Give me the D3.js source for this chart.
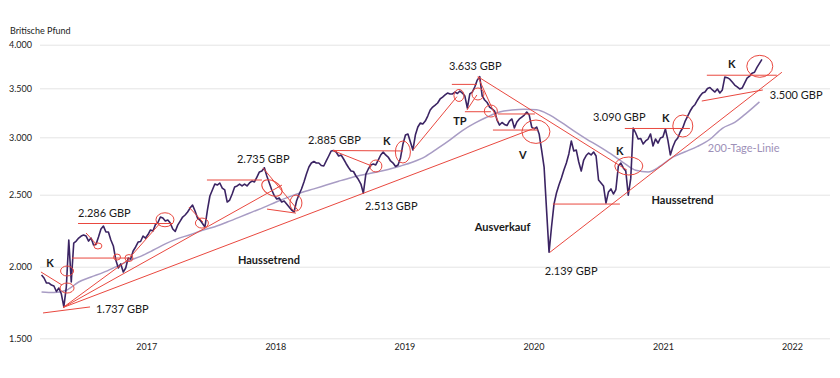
<!DOCTYPE html>
<html><head><meta charset="utf-8">
<script src="https://cdn.jsdelivr.net/npm/d3@7"></script>
<style>
body{margin:0;background:#fff}
svg{display:block}
text{font-family:Lato,"Open Sans",sans-serif}
</style>
</head><body>
<svg id="c" width="840" height="378"></svg>
<script>
// ---------- data ----------
const unitLabel = "Britische Pfund";
const startDate = "2016-03-11";            // first weekly close
const priceValues = [
1942,1921,1886,1886,1872,1865,1827,1851,1809,1720,
1858,2185,1893,2164,2178,2199,2213,2220,2213,2178,
2199,2151,2155,2206,2262,2282,2241,2241,2185,2144,
2046,1991,2019,1963,1991,2060,2053,2109,2137,2171,
2175,2213,2199,2223,2255,2248,2292,2307,2345,2338,
2317,2324,2303,2262,2245,2289,2317,2345,2359,2380,
2407,2428,2387,2338,2324,2300,2276,2393,2491,2541,
2593,2584,2602,2558,2541,2449,2463,2506,2567,2576,
2593,2576,2593,2576,2602,2619,2611,2654,2698,2706,
2735,2663,2602,2541,2494,2470,2477,2449,2456,2435,
2414,2393,2380,2456,2502,2550,2611,2680,2741,2776,
2789,2776,2776,2754,2750,2794,2837,2881,2885,2872,
2837,2846,2811,2772,2737,2706,2702,2663,2632,2593,
2513,2680,2724,2759,2767,2759,2802,2846,2872,2846,
2828,2794,2776,2746,2759,2820,2942,3023,3034,2959,
2889,3023,3105,3146,3136,3166,3217,3278,3309,3329,
3350,3391,3411,3432,3452,3442,3442,3462,3447,3472,
3452,3421,3299,3442,3462,3515,3594,3633,3421,3381,
3355,3309,3289,3268,3176,3125,3151,3131,3120,3166,
3187,3095,3156,3187,3207,3227,3258,3227,3105,3085,
3105,3034,2889,2741,2393,2100,2276,2435,2515,2584,
2645,2715,2776,2855,2968,2881,2889,2785,2706,2802,
2841,2863,2846,2872,2837,2628,2602,2576,2442,2524,
2550,2506,2545,2750,2776,2733,2706,2497,2640,3095,
3044,2985,2990,2942,2968,2985,3034,2924,2985,2950,
2994,3003,3085,2976,2846,2915,2968,2994,3054,3095,
3166,3217,3268,3309,3335,3381,3421,3452,3462,3498,
3509,3483,3462,3493,3452,3483,3628,3622,3605,3571,
3537,3515,3493,3503,3560,3616,3639,3673,3684,3740,
3786,3831
];
// 200-day line, sampled every 5 weeks from startDate
const ma200Values = [
1824,1820,1836,1893,1928,1960,1999,2039,2072,2114,
2159,2195,2222,2253,2278,2310,2344,2379,2414,2451,
2485,2519,2551,2584,2617,2648,2673,2695,2720,2750,
2785,2832,2903,2978,3069,3144,3207,3258,3278,3287,
3281,3231,3152,3066,2987,2923,2855,2780,2713,2698,
2750,2828,2874,2921,2983,3092,3152,3252,3362
];
const yTicks = [1500,2000,2500,3000,3500,4000];
const yearTicks = [2017,2018,2019,2020,2021,2022];

// annotations in data space: [decimal year, value, decimal year, value]
const trendLines = [
 [2016.187,1963, 2016.350,1872],
 [2016.203,1677, 2016.567,1719],
 [2016.427,2060, 2016.868,2060],
 [2016.536,2234, 2016.621,2151],
 [2016.474,2300, 2017.209,2300],
 [2016.876,2065, 2017.108,2301],
 [2016.358,1715, 2020.011,3095],
 [2016.358,1715, 2018.053,2584],
 [2016.358,1715, 2016.876,2058],
 [2017.472,2628, 2017.898,2628],
 [2017.333,2414, 2017.441,2310],
 [2017.906,2733, 2018.176,2393],
 [2017.937,2400, 2018.161,2372],
 [2018.447,2885, 2018.749,2750],
 [2018.447,2885, 2018.989,2881],
 [2019.368,3545, 2019.562,3545],
 [2019.067,2889, 2019.407,3414],
 [2019.485,3278, 2019.562,3432],
 [2019.469,3261, 2019.670,3261],
 [2019.570,3633, 2019.727,3159],
 [2019.570,3633, 2020.723,2715],
 [2019.724,3238, 2020.011,3238],
 [2019.686,3074, 2020.034,3074],
 [2020.150,2435, 2020.669,2435],
 [2020.127,2100, 2021.923,3684],
 [2020.707,3090, 2021.211,3090],
 [2021.342,3650, 2021.884,3650],
 [2021.303,3370, 2021.776,3483]
];
const ringCenters = [
 [2016.389,1970],[2016.389,1851],[2016.776,2067],[2016.868,2060],[2016.628,2144],[2017.147,2326],
 [2017.433,2303],[2017.975,2558],[2018.161,2442],[2018.780,2750],[2018.989,2872],
 [2019.423,3427],[2019.570,3442],[2019.670,3268],[2020.019,3057],
 [2020.738,2750],[2021.156,3115],[2021.752,3752]
];
const labelTexts = ["K","1.737 GBP","2.286 GBP","Haussetrend","2.735 GBP","2.885 GBP","K","2.513 GBP",
 "3.633 GBP","TP","V","Ausverkauf","2.139 GBP","K","3.090 GBP","K","Haussetrend","200-Tage-Linie","K","3.500 GBP"];
const labelAt = [
 [2016.257,2026],[2016.613,1705],[2016.474,2375],[2017.712,2053],[2017.704,2817],[2018.255,2980],
 [2018.865,2976],[2018.695,2428],[2019.345,3763],[2019.430,3176],[2019.918,2854],[2019.546,2282],
 [2020.088,1970],[2020.669,2881],[2020.460,3217],[2021.025,3207],[2020.914,2468],[2021.350,2907],
 [2021.536,3786],[2021.830,3432]
];

// ---------- presentation ----------
const ringShapes = [[6.5,5,0],[7,5,0],[3.5,3,0],[4,3.5,0],[4,3,0],[9,7,0],[6.5,5,0],[11,7,30],[6,8,0],
 [6,6,0],[7.5,11,0],[5,6,0],[6,6,0],[6.5,6,0],[14,11.7,0],[14,9,0],[10,11,0],[13,11,0]];
const labelKind = ["m","v","v","b","v","v","m","v","v","m","m","b","v","m","v","m","b","ma","m","v"];
const RED = "#e9483f", PRICE = "#3b2463", MA = "#a89cc4";

const svg = d3.select("#c");
const DAY = 864e5;
const t0 = Date.UTC(2016,0,1);
const dec = yr => new Date(t0 + (yr-2016)*365.25*DAY);
const start = new Date(startDate + "T00:00:00Z");

const x = d3.scaleUtc().domain([new Date(Date.UTC(2016,0,1)), new Date(Date.UTC(2022,0,1))]).range([16.8, 792]);
const y = d3.scaleLinear().domain(yTicks).range([338.3,266.7,194.7,137.3,88.3,44.7]);

const de = d3.formatLocale({decimal:",", thousands:".", grouping:[3], currency:["","€"]});
const fmt = de.format(",");

// y axis with grid
const ga = svg.append("g").attr("transform","translate(40,0)")
  .call(d3.axisLeft(y).tickValues(yTicks).tickFormat(fmt).tickSize(-790).tickPadding(8));
ga.select(".domain").remove();
ga.selectAll(".tick line").attr("stroke","#e4e4e4").attr("stroke-width",1);
ga.selectAll(".tick text").attr("fill","#222").style("font-size","9px").style("font-family","Lato, sans-serif");

// x axis
const gx = svg.append("g").attr("transform","translate(0,338.3)")
  .call(d3.axisBottom(x).tickValues(yearTicks.map(yr=>new Date(Date.UTC(yr,0,1)))).tickFormat(d3.utcFormat("%Y")).tickSize(0).tickPadding(5));
gx.select(".domain").remove();
gx.selectAll(".tick text").attr("fill","#222").style("font-size","9px").style("font-family","Lato, sans-serif");

svg.append("text").attr("x",10).attr("y",30).attr("dominant-baseline","central")
  .style("font-size","9px").attr("fill","#222").text(unitLabel);

// 200-day line
const maLine = d3.line().curve(d3.curveMonotoneX)
  .x((d,i)=>x(d3.utcDay.offset(start, 35*i))).y(d=>y(d));
svg.append("path").attr("d", maLine(ma200Values)).attr("fill","none").attr("stroke",MA).attr("stroke-width",1.5);

// price
const pLine = d3.line().x((d,i)=>x(d3.utcDay.offset(start, 7*i))).y(d=>y(d));
svg.append("path").attr("d", pLine(priceValues)).attr("fill","none").attr("stroke",PRICE)
  .attr("stroke-width",1.6).attr("stroke-linejoin","round");

// red trend lines
svg.append("g").selectAll("line").data(trendLines).join("line")
  .attr("x1",d=>x(dec(d[0]))).attr("y1",d=>y(d[1]))
  .attr("x2",d=>x(dec(d[2]))).attr("y2",d=>y(d[3]))
  .attr("stroke",RED).attr("stroke-width",1);

// rings
svg.append("g").selectAll("ellipse").data(ringCenters).join("ellipse")
  .attr("transform",(d,i)=>`translate(${x(dec(d[0]))},${y(d[1])}) rotate(${ringShapes[i][2]})`)
  .attr("rx",(d,i)=>ringShapes[i][0]).attr("ry",(d,i)=>ringShapes[i][1])
  .attr("fill","none").attr("stroke",RED).attr("stroke-width",1);

// labels
svg.append("g").selectAll("text").data(labelTexts).join("text")
  .attr("x",(d,i)=>x(dec(labelAt[i][0]))).attr("y",(d,i)=>y(labelAt[i][1]))
  .attr("dominant-baseline","central")
  .attr("text-anchor",(d,i)=>labelKind[i]==="m"?"middle":"start")
  .style("font-size","11px")
  .style("font-weight",(d,i)=>(labelKind[i]==="m"||labelKind[i]==="b")?"700":"400")
  .attr("fill",(d,i)=>labelKind[i]==="ma"?"#9d90b8":"#1a1a1a")
  .text(d=>d);
</script>
</body></html>
